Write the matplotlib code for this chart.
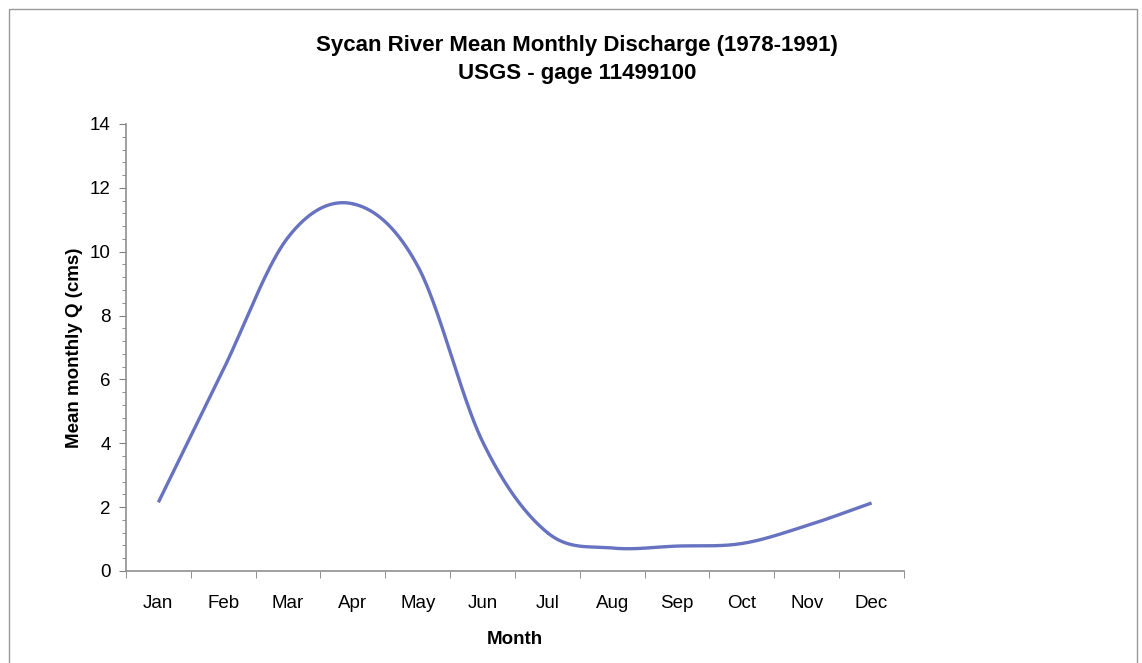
import numpy as np
import matplotlib
matplotlib.use("Agg")
import matplotlib.pyplot as plt
from matplotlib.patches import Rectangle
from matplotlib.ticker import MultipleLocator

plt.rcParams["font.family"] = ["Liberation Sans", "DejaVu Sans"]

months = ["Jan", "Feb", "Mar", "Apr", "May", "Jun",
          "Jul", "Aug", "Sep", "Oct", "Nov", "Dec"]
discharge = [2.15, 6.3, 10.45, 11.5, 9.55, 4.05,
             1.2, 0.72, 0.78, 0.86, 1.42, 2.13]


def smooth_curve(x, y, n=40):
    # Catmull-Rom style smoothing, similar to a spreadsheet "smoothed line"
    x = np.asarray(x, float)
    y = np.asarray(y, float)
    px = np.concatenate([[2 * x[0] - x[1]], x, [2 * x[-1] - x[-2]]])
    py = np.concatenate([[2 * y[0] - y[1]], y, [2 * y[-1] - y[-2]]])
    xs, ys = [], []
    t = np.linspace(0, 1, n)
    for i in range(1, len(px) - 2):
        p0, p1, p2, p3 = py[i - 1], py[i], py[i + 1], py[i + 2]
        q0, q1, q2, q3 = px[i - 1], px[i], px[i + 1], px[i + 2]
        for arr, a0, a1, a2, a3 in ((ys, p0, p1, p2, p3), (xs, q0, q1, q2, q3)):
            arr.append(0.5 * ((2 * a1) + (-a0 + a2) * t
                              + (2 * a0 - 5 * a1 + 4 * a2 - a3) * t ** 2
                              + (-a0 + 3 * a1 - 3 * a2 + a3) * t ** 3))
    return np.concatenate(xs), np.concatenate(ys)


fig = plt.figure(figsize=(11.42, 6.63), dpi=100)
ax = fig.add_axes([0.1103, 0.1388, 0.6813, 0.6742])

pos = np.arange(len(months))
sx, sy = smooth_curve(pos, discharge)
ax.plot(sx, sy, color="#6773C0", lw=2.4, solid_capstyle="butt")

ax.set_xlim(-0.5, len(months) - 0.5)
ax.set_ylim(0, 14)
ax.yaxis.set_major_locator(MultipleLocator(2))
ax.yaxis.set_minor_locator(MultipleLocator(0.4))
ax.set_xticks(pos)
ax.set_xticklabels(months)
ax.set_xticks(np.arange(len(months) + 1) - 0.5, minor=True)
ax.tick_params(axis="x", which="major", length=0, pad=17, labelsize=13.5)
ax.tick_params(axis="x", which="minor", length=5, color="#808080", direction="out")
ax.tick_params(axis="y", which="major", length=5, color="#808080", labelsize=13.5, pad=6)
ax.tick_params(axis="y", which="minor", length=3, color="#808080")

for side in ("top", "right"):
    ax.spines[side].set_visible(False)
for side in ("left", "bottom"):
    ax.spines[side].set_color("#909090")
    ax.spines[side].set_linewidth(1.2)

ax.set_xlabel("Month", fontsize=13.5, fontweight="bold", labelpad=14)
ax.set_ylabel("Mean monthly Q (cms)", fontsize=13.5, fontweight="bold", labelpad=5)

fig.text(577 / 1142, 1 - 45 / 663, "Sycan River Mean Monthly Discharge (1978-1991)",
         ha="center", va="center", fontsize=16, fontweight="bold")
fig.text(577 / 1142, 1 - 73 / 663, "USGS - gage 11499100",
         ha="center", va="center", fontsize=16, fontweight="bold")

# outer chart-area border
fig.patches.append(Rectangle((9 / 1142, -0.05), 1128 / 1142, 1.05 - 9 / 663,
                             transform=fig.transFigure, fill=False,
                             edgecolor="#999999", lw=1.0))

fig.savefig("out.png", dpi=100, facecolor="white")
